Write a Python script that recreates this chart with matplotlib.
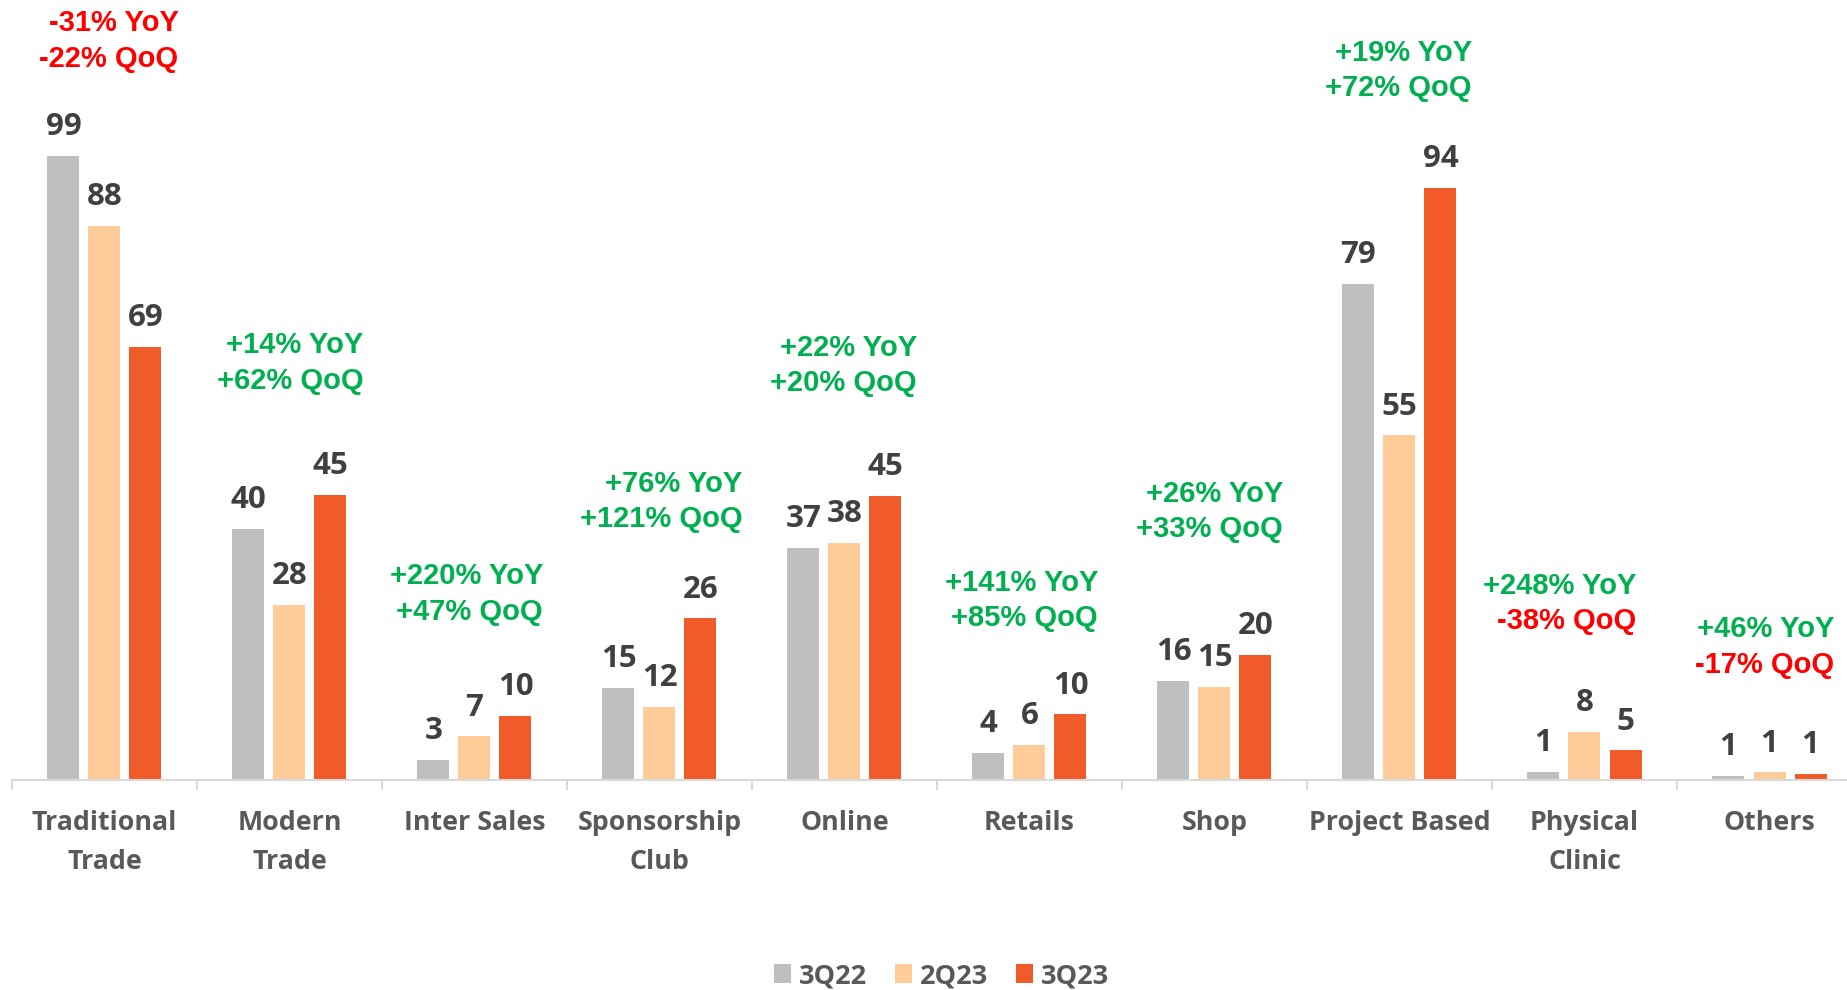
import matplotlib
matplotlib.use("Agg")
import matplotlib.pyplot as plt
import numpy as np

plt.rcParams["savefig.bbox"] = "standard"
plt.rcParams["savefig.pad_inches"] = 0

categories = ["Traditional\nTrade", "Modern\nTrade", "Inter Sales", "Sponsorship\nClub", "Online",
              "Retails", "Shop", "Project Based", "Physical\nClinic", "Others"]
series_names = ["3Q22", "2Q23", "3Q23"]
q3_22 = [98.9, 39.8, 3.2, 14.6, 36.8, 4.3, 15.7, 78.6, 1.3, 0.6]
q2_23 = [87.8, 27.8, 6.9, 11.6, 37.6, 5.6, 14.8, 54.6, 7.6, 1.2]
q3_23 = [68.6, 45.2, 10.1, 25.6, 45.0, 10.4, 19.8, 93.8, 4.7, 0.95]
yoy = [-31, 14, 220, 76, 22, 141, 26, 19, 248, 46]
qoq = [-22, 62, 47, 121, 20, 85, 33, 72, -38, -17]

# annotation layout (right edge offset from category center, block center height)
ann_dx = [0.40, 0.40, 0.37, 0.45, 0.39, 0.37, 0.37, 0.39, 0.28, 0.35]
ann_y = [117.1, 66.1, 29.5, 44.1, 65.7, 28.4, 42.6, 112.4, 28.0, 21.1]

colors = ["#BFBFBF", "#FFCC99", "#F15A29"]
GREEN = "#00B050"
RED = "#FF0000"
LABEL_C = "#404040"
TEXT_C = "#595959"
FONT = "Open Sans"

W, H = 1847, 990
fig = plt.figure(figsize=(W / 100, H / 100), dpi=100)
ax = fig.add_axes([12 / W, 210 / H, 1 - 12 / W, 780 / H])

x = np.arange(len(categories))
bw = 32 / 185
step = 41 / 185
data = [q3_22, q2_23, q3_23]
for i, (vals, c, name) in enumerate(zip(data, colors, series_names)):
    pos = x + (i - 1) * step
    ax.bar(pos, vals, width=bw, color=c, label=name, zorder=2)
    for xp, v in zip(pos, vals):
        ax.annotate(f"{v:.0f}", (xp, v), xytext=(0, 15), textcoords="offset points",
                    ha="center", va="baseline", fontsize=22.5, fontweight="bold",
                    color=LABEL_C, family=FONT)

def fmt(v):
    return f"+{v}%" if v > 0 else f"{v}%"

for i in range(len(categories)):
    xr = x[i] + ann_dx[i]
    ax.text(xr, ann_y[i] + 2.8, fmt(yoy[i]) + " YoY", ha="right", va="center",
            fontsize=21, fontweight="bold", color=GREEN if yoy[i] > 0 else RED,
            family="Liberation Sans")
    ax.text(xr, ann_y[i] - 2.8, fmt(qoq[i]) + " QoQ", ha="right", va="center",
            fontsize=21, fontweight="bold", color=GREEN if qoq[i] > 0 else RED,
            family="Liberation Sans")

for s in ["top", "right", "left"]:
    ax.spines[s].set_visible(False)
ax.spines["bottom"].set_color("#D9D9D9")
ax.spines["bottom"].set_linewidth(1.5)
ax.set_yticks([])
ax.set_xticks(x)
ax.set_xticklabels(categories, fontsize=19.3, fontweight="bold", color=TEXT_C,
                   family=FONT, linespacing=1.65)
ax.tick_params(axis="x", which="major", length=0, pad=21.5)
ax.set_xticks(np.arange(-0.5, len(categories) - 0.5, 1), minor=True)
ax.tick_params(axis="x", which="minor", length=7.5, width=1.5, color="#D9D9D9", direction="out")
ax.set_xlim(-0.5, -0.5 + (W - 12) / 185)
ax.set_ylim(0, 780 / 6.31)

leg = fig.legend(loc="center", bbox_to_anchor=(941.5 / W, 1 - 976 / H), ncol=3, frameon=False,
                 prop={"family": FONT, "weight": "bold", "size": 19.5},
                 handlelength=0.65, handleheight=0.65, handletextpad=0.3, columnspacing=1.0)
for t in leg.get_texts():
    t.set_color(TEXT_C)

fig.savefig("out.png", dpi=100)
